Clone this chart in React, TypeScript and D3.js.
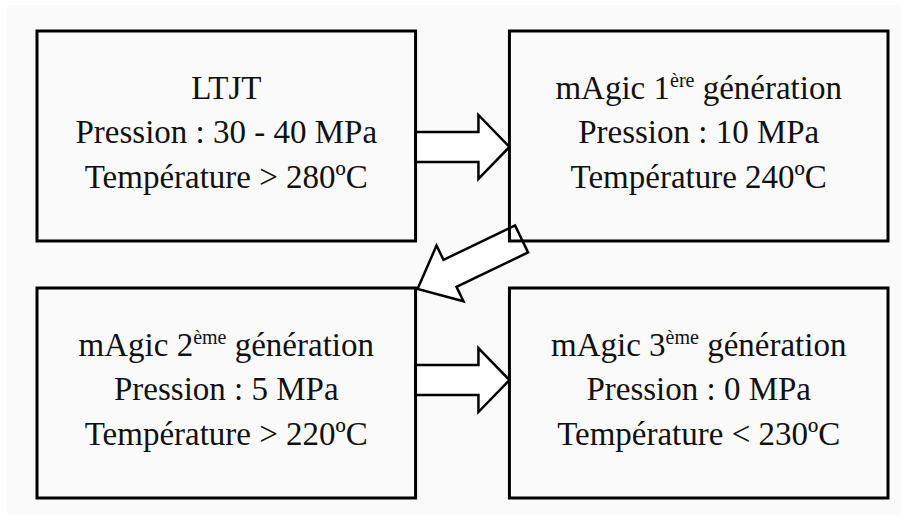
//@ts-nocheck
import * as d3 from 'd3';

// box contents, in reading order (row by row)
const titles = ['LTJT', 'mAgic 1', 'mAgic 2', 'mAgic 3'];
const titleSup = ['', 'ère', 'ème', 'ème'];
const titleTail = ['', ' génération', ' génération', ' génération'];
const pressures = ['Pression : 30 - 40 MPa', 'Pression : 10 MPa', 'Pression : 5 MPa', 'Pression : 0 MPa'];
const temperatures = ['Température > 280ºC', 'Température 240ºC', 'Température > 220ºC', 'Température < 230ºC'];
const cols = [0, 1, 0, 1];
const rows = [0, 0, 1, 1];
// arrows between boxes: [from, to]
const links = [[0, 1], [1, 2], [2, 3]];

const W = 901;
const H = 515;
const FONT = 'Liberation Serif';

const x = d3.scaleBand().domain([0, 1]).range([37, 888]).paddingInner(0.1987);
const y = d3.scaleBand().domain([0, 1]).range([31, 498]).paddingInner(0.183);
const bw = x.bandwidth();
const bh = y.bandwidth();

const boxes = titles.map((t, i) => ({
    i,
    x0: x(cols[i]),
    y0: y(rows[i]),
    x1: x(cols[i]) + bw,
    y1: y(rows[i]) + bh,
}));

const line = d3.line().curve(d3.curveLinearClosed);

// horizontal block arrows (top one sits a bit below the box middle, bottom one a bit above)
const horiz = (a, b) => {
    const cy = (a.y0 + a.y1) / 2 + (rows[a.i] === 0 ? 11 : -13);
    const sx = a.x1, tx = b.x0;
    const hx = tx - 31;
    return [
        [sx, cy - 15], [hx, cy - 15], [hx, cy - 32], [tx, cy],
        [hx, cy + 32], [hx, cy + 15], [sx, cy + 15],
    ];
};

// diagonal block arrow, from box 2 bottom-left to box 3 top-right corner
const diag = (a, b) => {
    const tip = [b.x1 + 2, b.y0 + 1];
    const start = [a.x0 - 0.5, a.y1 + 4];
    const ang = Math.atan2(start[1] - tip[1], start[0] - tip[0]);
    const ux = Math.cos(ang), uy = Math.sin(ang);
    const nx = -uy, ny = ux;
    const len = Math.hypot(start[0] - tip[0], start[1] - tip[1]) + 14;
    const headLen = 36, headW = 31, shaftW = 15;
    const p = (d, w) => [tip[0] + ux * d + nx * w, tip[1] + uy * d + ny * w];
    return [
        tip, p(headLen, -headW), p(headLen, -shaftW), p(len, -shaftW),
        p(len, shaftW), p(headLen, shaftW), p(headLen, headW),
    ];
};

export default function App() {
    return (
        <svg width={W} height={H} style={{ position: 'absolute', left: 0, top: 0, display: 'block' }}>
            {/* background */}
            <rect width={W} height={H} fill="#ffffff" />
            <rect x={7} y={5} width={W - 7} height={H - 5} fill="#fafafa" />

            {links.map(([f, t]) => {
                const a = boxes[f], b = boxes[t];
                const pts = rows[f] === rows[t] ? horiz(a, b) : diag(a, b);
                return (
                    <path key={`${f}-${t}`} d={line(pts)} fill="#ffffff" stroke="#000"
                        strokeWidth={2.5} strokeLinejoin="miter" />
                );
            })}

            {boxes.map(d => {
                const cx = (d.x0 + d.x1) / 2;
                return (
                    <g key={d.i}>
                        <rect x={d.x0} y={d.y0} width={bw} height={bh} fill="none" stroke="#000" strokeWidth={3} />
                        <text textAnchor="middle" fontFamily={FONT} fontSize={33} fill="#111">
                            <tspan x={cx} y={d.y0 + 68}>
                                {titles[d.i]}
                                {titleSup[d.i] ? (
                                    <tspan dy={-12} fontSize={20}>{titleSup[d.i]}</tspan>
                                ) : null}
                                {titleSup[d.i] ? (
                                    <tspan dy={12}>{titleTail[d.i]}</tspan>
                                ) : null}
                            </tspan>
                            <tspan x={cx} y={d.y0 + 112}>{pressures[d.i]}</tspan>
                            <tspan x={cx} y={d.y0 + 157}>{temperatures[d.i]}</tspan>
                        </text>
                    </g>
                );
            })}
        </svg>
    );
}
